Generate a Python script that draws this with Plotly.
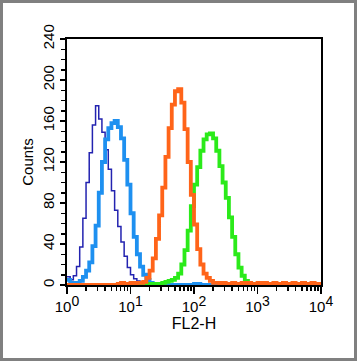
import numpy as np
import plotly.graph_objects as go

# Histogram bins: 80 channels spanning 10^0 .. 10^4 (log-spaced edges)
n_bins = 80
bin_edges = 10 ** (np.arange(n_bins + 1) / 20.0)

# Counts per channel
counts_navy = [8, 5, 9, 18, 37, 65, 100, 129, 156, 175, 162, 149, 132, 113, 92, 73,
               57, 42, 28, 17, 10, 6, 4, 3, 2, 1, 1, 0, 0, 0, 0, 0,
               0, 0, 0, 0, 0, 0, 0, 0, 0, 0, 0, 0, 0, 0, 0, 0,
               0, 0, 0, 0, 0, 0, 0, 0, 0, 0, 0, 0, 0, 0, 0, 0,
               0, 0, 0, 0, 0, 0, 0, 0, 0, 0, 0, 0, 0, 0, 0, 0]

counts_lightblue = [5, 2, 1, 2, 4, 8, 14, 22, 38, 58, 90, 120, 142, 153, 158, 160,
                    154, 143, 122, 98, 70, 47, 30, 18, 10, 5, 2, 1, 0, 0, 0, 0,
                    0, 0, 0, 0, 0, 0, 0, 0, 1, 1, 0, 0, 0, 0, 0, 0,
                    0, 0, 0, 0, 0, 0, 0, 0, 0, 0, 0, 0, 0, 0, 0, 0,
                    0, 0, 0, 0, 0, 0, 0, 0, 0, 0, 0, 0, 0, 0, 0, 0]

counts_green = [0, 0, 0, 0, 0, 0, 0, 0, 0, 0, 0, 0, 0, 0, 0, 0,
                0, 0, 0, 0, 0, 0, 0, 0, 0, 0, 1, 1, 1, 1, 2, 3,
                4, 5, 7, 11, 20, 34, 53, 77, 98, 115, 131, 142, 147, 148, 143, 131,
                116, 100, 85, 66, 47, 30, 17, 9, 4, 2, 1, 0, 0, 0, 0, 0,
                0, 0, 0, 0, 0, 0, 0, 0, 0, 0, 0, 0, 0, 0, 0, 0]

counts_orange = [0, 0, 0, 0, 0, 0, 0, 0, 0, 0, 0, 0, 0, 0, 0, 0,
                 1, 2, 1, 1, 2, 1, 2, 2, 3, 7, 14, 26, 45, 68, 95, 125,
                 153, 176, 189, 191, 178, 152, 120, 88, 59, 35, 20, 11, 7, 4, 2, 2,
                 1, 2, 1, 1, 2, 1, 1, 2, 1, 2, 1, 1, 2, 1, 2, 1,
                 1, 2, 1, 1, 2, 1, 1, 2, 1, 1, 2, 1, 1, 2, 1, 1]

x_tick_vals = [1, 10, 100, 1000, 10000]
x_tick_text = ["10<sup><span style='font-size:14px'>%d</span></sup>" % k for k in range(5)]
x_minor_vals = [m * 10 ** k for k in range(4) for m in range(2, 10)]
y_tick_vals = [0, 40, 80, 120, 160, 200, 240]

series = [
    ("navy", counts_navy, "#2323B0", 1.5),
    ("lightblue", counts_lightblue, "#1E90F0", 3.8),
    ("green", counts_green, "#2BEA1A", 3.8),
    ("orange", counts_orange, "#FF6419", 3.8),
]

fig = go.Figure()
for name, counts, color, width in series:
    fig.add_trace(go.Scatter(
        x=bin_edges,
        y=list(counts) + [counts[-1]],
        mode="lines",
        line=dict(color=color, width=width, shape="hv"),
        name=name,
        showlegend=False,
        hoverinfo="skip",
    ))

W, H = 358, 362
L, R, T, B = 67, 321, 39, 285


def px(xp):
    return (xp - L) / (R - L)


def py(yp):
    return (B - yp) / (B - T)


fig.update_layout(
    width=W, height=H,
    margin=dict(l=L, r=W - R, t=T, b=H - B, autoexpand=False),
    paper_bgcolor="white",
    plot_bgcolor="white",
    font=dict(family="Liberation Sans, Arial, sans-serif", color="black", size=15),
    xaxis=dict(
        type="log", range=[0, 4],
        showline=True, linecolor="black", linewidth=2, mirror=True,
        showgrid=False, zeroline=False,
        tickmode="array", tickvals=x_tick_vals, ticktext=x_tick_text,
        ticks="outside", ticklen=7, tickwidth=1.5, tickcolor="black",
        tickfont=dict(size=15),
        minor=dict(tickmode="array", tickvals=x_minor_vals, ticks="outside",
                   ticklen=4, tickwidth=1.5, tickcolor="black", showgrid=False),
        title=dict(text="FL2-H", font=dict(size=16), standoff=4),
    ),
    yaxis=dict(
        range=[0, 240],
        showline=True, linecolor="black", linewidth=2, mirror=True,
        showgrid=False, zeroline=False,
        tickmode="array", tickvals=y_tick_vals,
        ticks="outside", ticklen=5, tickwidth=1.5, tickcolor="black",
        tickangle=-90, tickfont=dict(size=15),
        minor=dict(dtick=10, ticks="outside", ticklen=4, tickwidth=1.5,
                   tickcolor="black", showgrid=False),
        title=dict(text="Counts", font=dict(size=15), standoff=3),
    ),
    shapes=[dict(
        type="rect", xref="paper", yref="paper",
        x0=px(1.5), x1=px(355.5), y0=py(1.5), y1=py(359.5),
        line=dict(color="#808080", width=3), fillcolor="rgba(0,0,0,0)",
        layer="above",
    )],
)

fig.write_html(
    "out.html",
    config={"displayModeBar": False, "staticPlot": True},
    post_script="document.body.style.margin='0px';document.documentElement.style.overflow='hidden';",
)
